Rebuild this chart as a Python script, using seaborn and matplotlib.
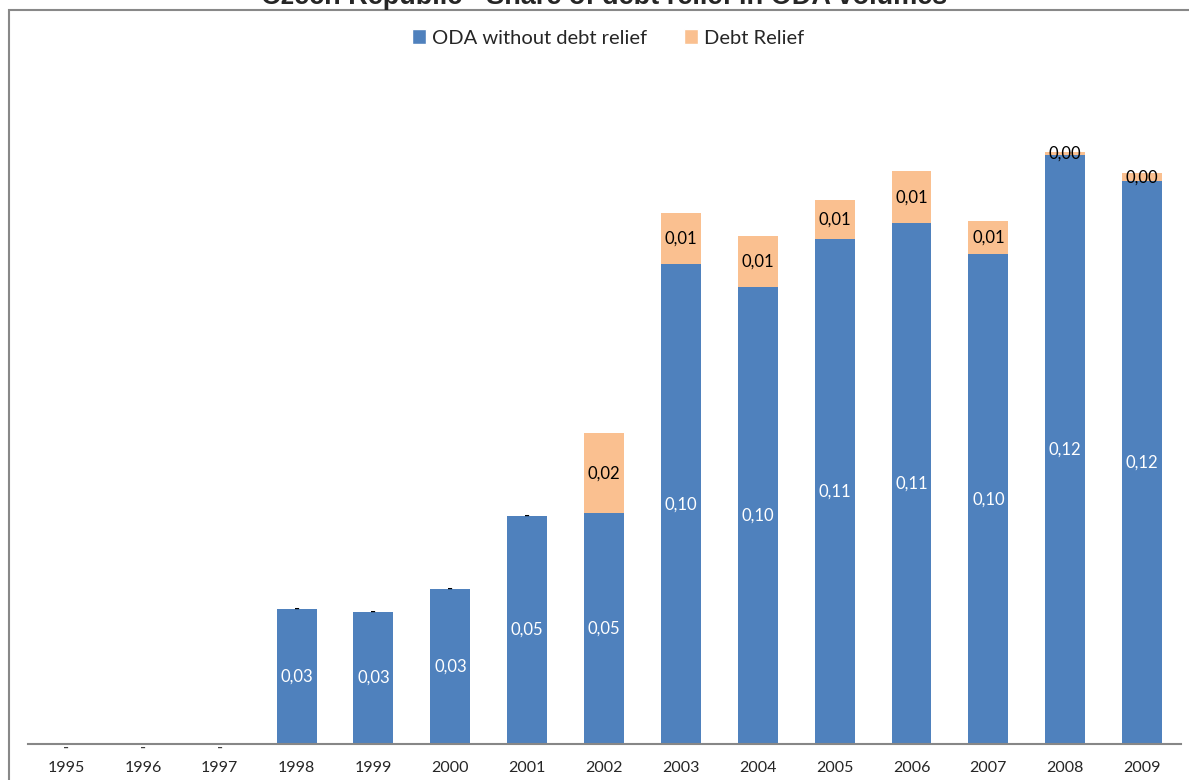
import matplotlib
matplotlib.use("Agg")
import matplotlib.pyplot as plt
from matplotlib.patches import Patch, Rectangle
from matplotlib.transforms import offset_copy
import seaborn as sns
import pandas as pd

# ODA as % of GNI
years = ["1995", "1996", "1997", "1998", "1999", "2000", "2001", "2002",
         "2003", "2004", "2005", "2006", "2007", "2008", "2009"]
oda_no_debt = [0.0, 0.0, 0.0, 0.0284, 0.0277, 0.0326, 0.0479, 0.0485,
               0.1008, 0.0960, 0.1061, 0.1095, 0.1029, 0.1239, 0.1183]
debt_relief = [0.0, 0.0, 0.0, 0.0, 0.0, 0.0, 0.0, 0.0168,
               0.0109, 0.0107, 0.0082, 0.0109, 0.0071, 0.0006, 0.0017]

blue = "#4F81BD"
orange = "#FAC090"

df = pd.DataFrame({"Year": years, "ODA": oda_no_debt, "Debt": debt_relief})
df["Total"] = df["ODA"] + df["Debt"]

sns.set_style("white")
plt.rcParams["font.family"] = ["Lato", "DejaVu Sans"]

fig = plt.figure(figsize=(11.89, 7.80), dpi=100)
ax = fig.add_axes([27.6 / 1189, 36 / 780, 1152.9 / 1189, 666 / 780])

# stacked bars: total in orange, ODA without debt relief drawn over it
sns.barplot(data=df, x="Year", y="Total", color=orange, width=0.52,
            saturation=1, linewidth=0, ax=ax)
sns.barplot(data=df, x="Year", y="ODA", color=blue, width=0.52,
            saturation=1, linewidth=0, ax=ax)


def fmt(v):
    return "-" if v == 0 else f"{v:.2f}".replace(".", ",")


dash_tr = offset_copy(ax.transData, fig=fig, x=0, y=-3, units="points")
for i, (o, d) in enumerate(zip(oda_no_debt, debt_relief)):
    if o > 0:
        ax.text(i, o / 2, fmt(o), ha="center", va="center", color="white", fontsize=12)
        ax.text(i, o + d / 2, fmt(d), ha="center", va="center", color="black", fontsize=12)
    else:
        ax.text(i, 0, fmt(d), ha="center", va="center", color="#404040",
                fontsize=12, transform=dash_tr)

ax.set_xlim(-0.5, 14.5)
ax.set_ylim(0, 0.14)
ax.set_xlabel("")
ax.set_ylabel("")
ax.set_yticks([])
ax.tick_params(axis="x", length=0, pad=12, labelsize=11.5)
for s in ["top", "right", "left"]:
    ax.spines[s].set_visible(False)
ax.spines["bottom"].set_color("#878787")
ax.spines["bottom"].set_linewidth(1.5)

handles = [Patch(facecolor=blue, label="ODA without debt relief"),
           Patch(facecolor=orange, label="Debt Relief")]
fig.legend(handles=handles, loc="center", bbox_to_anchor=(608 / 1189, 1 - 38 / 780),
           ncol=2, frameon=False, fontsize=14.5, handlelength=0.7, handleheight=0.7,
           handletextpad=0.3, columnspacing=1.8)

fig.text(604 / 1189, 1 - 4 / 780, "Czech Republic - Share of debt relief in ODA volumes",
         ha="center", va="baseline", fontsize=19.5, fontweight="bold",
         family=["Liberation Sans", "DejaVu Sans"])

fig.patches.append(Rectangle((9 / 1189, -0.1), 1.2, 1 - 10.5 / 780 + 0.1,
                             transform=fig.transFigure, fill=False,
                             edgecolor="#888888", linewidth=1.5))

fig.savefig("out.png", dpi=100)
